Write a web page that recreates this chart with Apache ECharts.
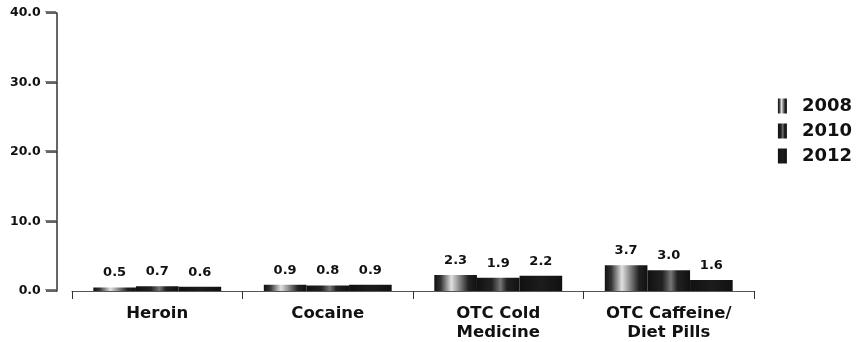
<!DOCTYPE html>
<html><head><meta charset="utf-8">
<script src="https://cdn.jsdelivr.net/npm/echarts@6/dist/echarts.min.js"></script>
<style>html,body{margin:0;padding:0;background:#fff}#c{width:859px;height:342px}</style>
</head><body><div id="c"></div>
<script>
var categories = ['Heroin', 'Cocaine', 'OTC Cold\nMedicine', 'OTC Caffeine/\nDiet Pills'];
var years = ['2008', '2010', '2012'];
var v2008 = [0.5, 0.9, 2.3, 3.7];
var v2010 = [0.7, 0.8, 1.9, 3.0];
var v2012 = [0.6, 0.9, 2.2, 1.6];
var yTicks = [0, 10, 20, 30, 40];

var font = 'DejaVu Sans';
function grad(stops){
  return new echarts.graphic.LinearGradient(0,0,1,0, stops.map(function(s){return {offset:s[0], color:s[1]};}));
}
var colors = [
  grad([[0,'#111'],[0.15,'#333'],[0.4,'#e0e0e0'],[0.55,'#999'],[0.8,'#222'],[1,'#111']]),
  grad([[0,'#111'],[0.35,'#222'],[0.55,'#777'],[0.7,'#222'],[1,'#111']]),
  grad([[0,'#111'],[0.5,'#1c1c1c'],[1,'#111']])
];
var data = [v2008, v2010, v2012];
var series = years.map(function(y,i){
  return {
    name: y, type: 'bar', data: data[i], barGap: '0%', barCategoryGap: '25%',
    itemStyle: {color: colors[i]},
    label: {show: true, position: 'top', distance: 8, color: '#111', fontFamily: font, fontWeight: 'bold', fontSize: 13,
      formatter: function(p){return p.value.toFixed(1);}}
  };
});
var chart = echarts.init(document.getElementById('c'));
chart.setOption({
  animation: false,
  backgroundColor: '#fff',
  grid: {left: 72, right: 105, top: 13, bottom: 51},
  legend: {
    orient: 'vertical', right: 2, top: 92, icon: 'rect', itemWidth: 9, itemHeight: 15, itemGap: 7,
    textStyle: {fontFamily: font, fontWeight: 'bold', fontSize: 18, color: '#111', padding: [0,0,0,10]},
    data: years
  },
  xAxis: {
    type: 'category', data: categories,
    axisLine: {lineStyle: {color: '#555', width: 1}},
    axisTick: {show: true, length: 8, lineStyle: {color: '#333'}},
    axisLabel: {fontFamily: font, fontWeight: 'bold', fontSize: 16.5, color: '#111', margin: 13, lineHeight: 19, interval: 0}
  },
  yAxis: {
    type: 'value', min: 0, max: 40, interval: 10, offset: 15,
    splitLine: {show: false},
    axisLine: {show: true, lineStyle: {color: '#333', width: 1.5}},
    axisTick: {show: true, length: 11, lineStyle: {color: '#333', width: 1.5}},
    axisLabel: {margin: 1,
      formatter: function(v){return yTicks.indexOf(v) >= 0 ? '{a|' + v.toFixed(1) + ' }{t|\u2500\u2500}' : '';},
      rich: {
        a: {fontFamily: font, fontWeight: 'bold', fontSize: 12.5, color: '#111', verticalAlign: 'middle'},
        t: {fontFamily: font, fontSize: 9, color: '#444', verticalAlign: 'middle'}
      }}
  },
  series: series
});
</script></body></html>
